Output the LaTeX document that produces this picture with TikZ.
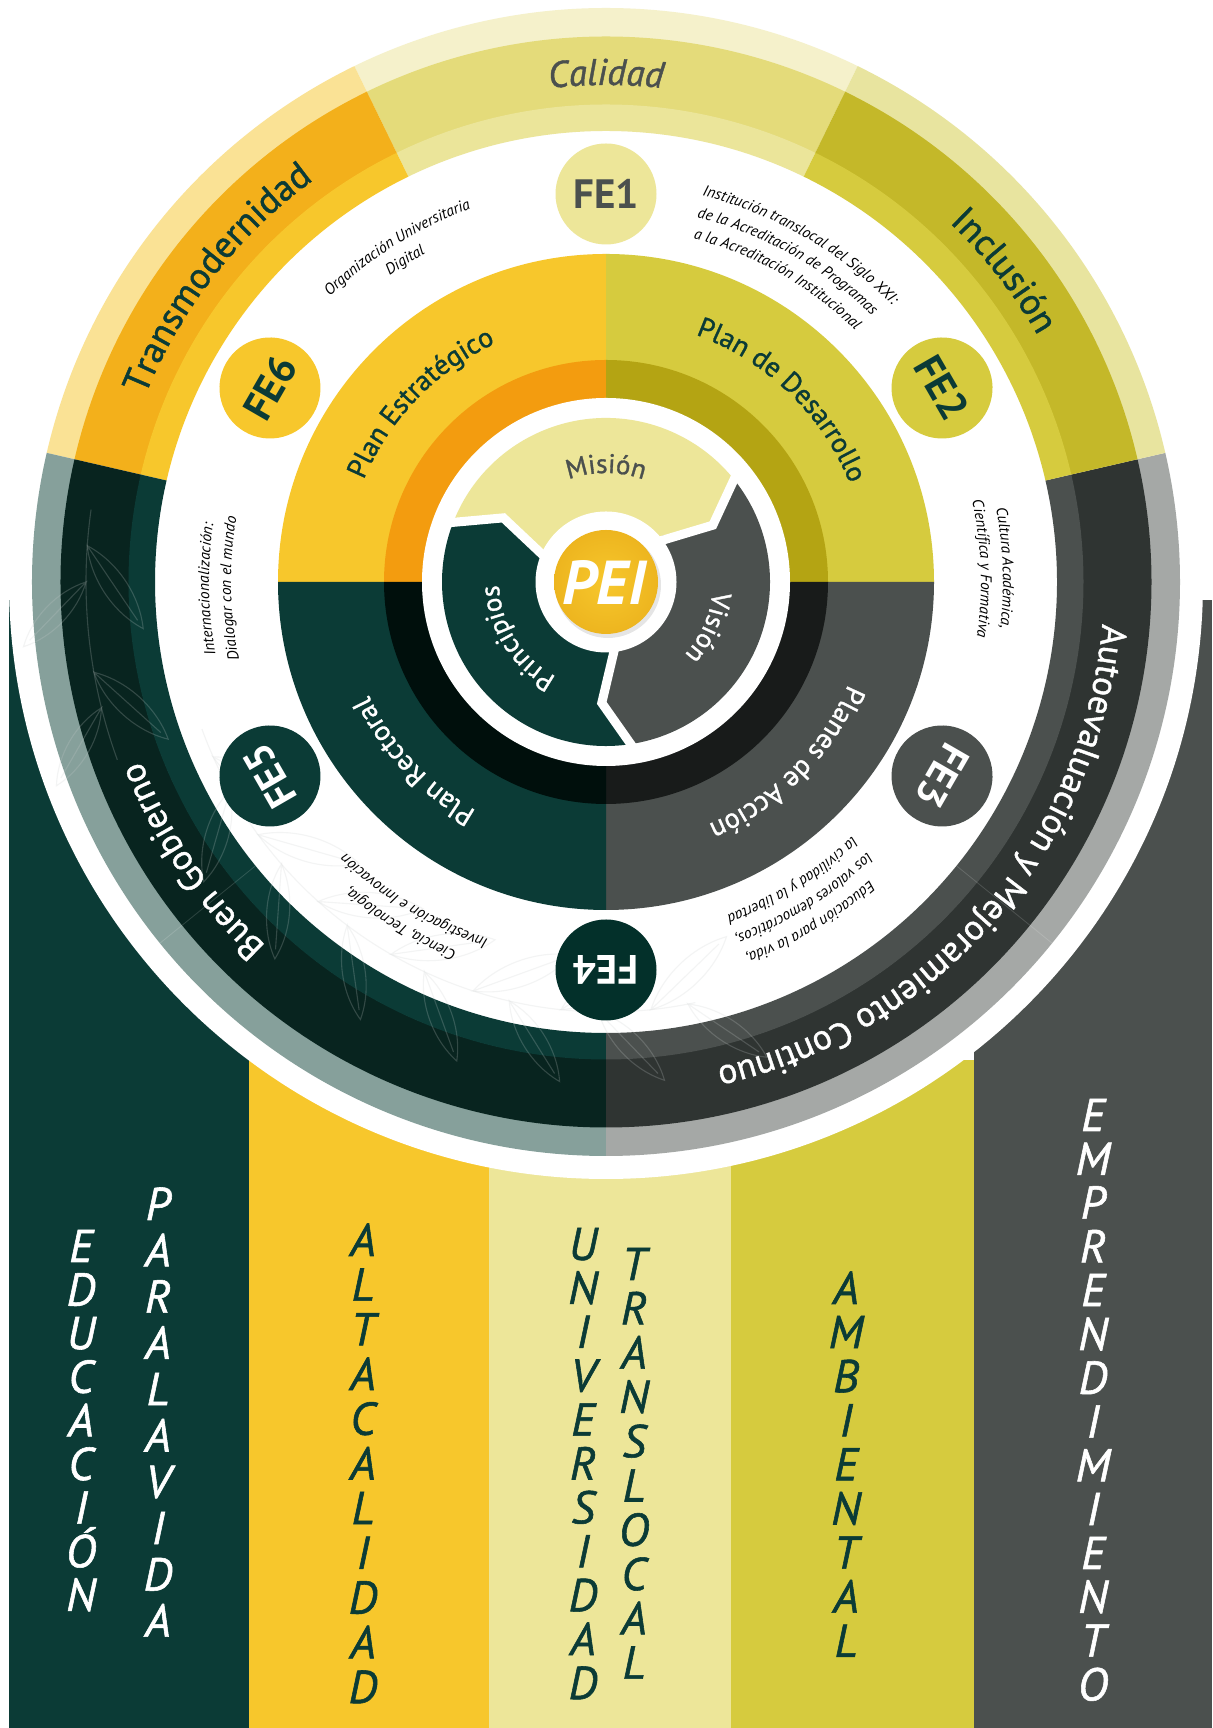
\documentclass[tikz,border=0pt]{standalone}
\usepackage{fontspec}
\setmainfont{PT Sans}
\newfontfamily\medf{PT Sans}[FakeBold=1.2]
\usetikzlibrary{decorations.text}
\definecolor{cDG}{HTML}{0B3B36}
\definecolor{cGR}{HTML}{4B504E}
\definecolor{cYE}{HTML}{F7C72C}
\definecolor{cLY}{HTML}{EDE699}
\definecolor{cYG}{HTML}{D6CB3E}
\definecolor{caO}{HTML}{F5F1CB}\definecolor{caM}{HTML}{E4DB7A}\definecolor{caI}{HTML}{EBE59A}
\definecolor{trO}{HTML}{FAE295}\definecolor{trM}{HTML}{F3B01B}\definecolor{trI}{HTML}{F7C72C}
\definecolor{inO}{HTML}{E8E49F}\definecolor{inM}{HTML}{C4B829}\definecolor{inI}{HTML}{D6CB3E}
\definecolor{bgO}{HTML}{86A09B}\definecolor{bgM}{HTML}{08241F}\definecolor{bgI}{HTML}{0B3B36}
\definecolor{auO}{HTML}{A5A8A6}\definecolor{auM}{HTML}{2F3432}\definecolor{auI}{HTML}{4B504E}
\definecolor{qTL}{HTML}{F39C0F}\definecolor{qTR}{HTML}{B4A413}\definecolor{qBR}{HTML}{181B1A}\definecolor{qBL}{HTML}{000F0C}
\definecolor{cFEfour}{HTML}{03302A}
\definecolor{peiY}{HTML}{EDB51F}
\definecolor{leafc}{HTML}{C9CDCD}

\newcommand{\annsec}[5]{\fill[#5] (#1:#4) arc[start angle=#1,end angle=#2,radius=#4] -- (#2:#3) arc[start angle=#2,end angle=#1,radius=#3] -- cycle;}
\newcommand{\ringsec}[5]{\annsec{#1}{#2}{545pt}{574pt}{#3}\annsec{#1}{#2}{477pt}{545.5pt}{#4}\annsec{#1}{#2}{451pt}{477.5pt}{#5}}
\newcommand{\arctxt}[6]{\path[decorate,decoration={text along path,text align=center,text color=#4,text={|#5|#6}}] (#2+#3:#1) arc[start angle=#2+#3,end angle=#2-#3,radius=#1];}
\newcommand{\fOut}{\medf\fontsize{37pt}{37pt}\selectfont}
\newcommand{\fOutB}{\medf\fontsize{35.5pt}{35.5pt}\selectfont}
\newcommand{\fQ}{\medf\fontsize{28pt}{28pt}\selectfont}
\newcommand{\fS}{\medf\fontsize{27pt}{27pt}\selectfont}
\newcommand{\fT}{\fontsize{15.5pt}{15.5pt}\selectfont\itshape}
\newcommand{\colword}[5]{\foreach \l [count=\i from 0] in {#5} {\node[collet,text=#4] at (#1,{1728-#2-16-\i*#3}) {\l};}}
\newcommand{\leafat}[3]{\draw[leafst, shift={(#1)}, rotate=#2] (0,0) .. controls (0.3*#3,0.16*#3) and (0.7*#3,0.16*#3) .. (#3,0) .. controls (0.7*#3,-0.16*#3) and (0.3*#3,-0.16*#3) .. (0,0) -- (0.9*#3,0);}

\tikzset{
  collet/.style={font=\medf\fontsize{46pt}{46pt}\selectfont\itshape, anchor=base, inner sep=0pt},
  fecirc/.style={circle, minimum size=101pt, inner sep=0pt, font=\fontsize{41pt}{41pt}\selectfont\bfseries},
  sepline/.style={white, line width=9pt, line join=miter},
  leafst/.style={leafc, line width=1.1pt, opacity=.22}
}

\begin{document}
\begin{tikzpicture}[x=1pt,y=1pt]
\useasboundingbox (0,0) rectangle (1212,1728);
\fill[white] (0,0) rectangle (1212,1728);
% columns
\fill[cDG] (9,0) rectangle (249,1128);
\fill[cYE] (249,0) rectangle (489,668);
\fill[cLY] (489,0) rectangle (731,668);
\fill[cYG] (731,0) rectangle (974,668);
\fill[cGR] (974,0) rectangle (1212,1128);

\colword{81}{1246}{43.6}{white}{E,D,U,C,A,C,I,Ó,N}
\colword{158}{1204}{46.3}{white}{P,A,R,A,L,A,V,I,D,A}
\colword{363}{1240}{44.7}{cDG}{A,L,T,A,C,A,L,I,D,A,D}
\colword{583}{1244}{43.9}{cDG}{U,N,I,V,E,R,S,I,D,A,D}
\colword{634}{1264}{44.3}{cDG}{T,R,A,N,S,L,O,C,A,L}
\colword{846}{1288}{44.1}{cDG}{A,M,B,I,E,N,T,A,L}
\colword{1093}{1115}{43.8}{white}{E,M,P,R,E,N,D,I,M,I,E,N,T,O}

\begin{scope}[shift={(606,1146)}]
\fill[white] (0,0) circle[radius=597pt];
% outer ring
\ringsec{64}{116}{caO}{caM}{caI}
\ringsec{116}{167}{trO}{trM}{trI}
\ringsec{167}{270}{bgO}{bgM}{bgI}
\ringsec{-90}{13}{auO}{auM}{auI}
\ringsec{13}{64}{inO}{inM}{inI}
\draw[white,opacity=.15,line width=.8pt] (219:451pt) -- (219:574pt);
\draw[white,opacity=.15,line width=.8pt] (-39:451pt) -- (-39:574pt);

% faint leaf branches (background)
\draw[leafst] (200:430pt) arc[start angle=200,end angle=282,radius=430pt];
\foreach \a in {204,216,...,276} {
  \leafat{\a:430pt}{\a+90+38}{105}
  \leafat{\a+5:430pt}{\a+90-40}{95}
}
\draw[leafst] (172:520pt) arc[start angle=172,end angle=200,radius=520pt];
\foreach \a in {176,190} {
  \leafat{\a:520pt}{\a+90+38}{100}
  \leafat{\a+4:520pt}{\a+90-40}{90}
}

\arctxt{497pt}{142}{60}{cDG}{\fOut}{Transmodernidad}
\arctxt{497pt}{90}{60}{cGR}{\fOut\itshape}{Calidad}
\arctxt{497pt}{38}{60}{cDG}{\fOut}{Inclusión}
\arctxt{498pt}{214}{60}{white}{\fOutB}{Buen Gobierno}
\arctxt{498pt}{-41}{70}{white}{\fOutB}{Autoevaluación y Mejoramiento Continuo}

% FE circles
\node[fecirc, fill=cLY, text=cGR] (fe1) at (90:388pt) {FE1};
\node[fecirc, fill=cYG, text=cDG, rotate=-60] (fe2) at (30:388pt) {FE2};
\node[fecirc, fill=cGR, text=white, rotate=-120] (fe3) at (-30:388pt) {FE3};
\node[fecirc, fill=cFEfour, text=white, rotate=180] (fe4) at (-90:388pt) {FE4};
\node[fecirc, fill=cDG, text=white, rotate=120] (fe5) at (210:388pt) {FE5};
\node[fecirc, fill=cYE, text=cDG, rotate=60] (fe6) at (150:388pt) {FE6};

% small texts
\arctxt{397pt}{122}{40}{black}{\fT}{Organización Universitaria}
\arctxt{375pt}{122}{40}{black}{\fT}{Digital}
\arctxt{398pt}{60}{40}{black}{\fT}{Institución translocal del Siglo XXI:}
\arctxt{376pt}{60.5}{40}{black}{\fT}{de la Acreditación de Programas}
\arctxt{354pt}{60.5}{40}{black}{\fT}{a  la Acreditación Institucional}
\arctxt{397pt}{2}{40}{black}{\fT}{Cultura Académica,}
\arctxt{375pt}{2}{40}{black}{\fT}{Científica y Formativa}
\arctxt{398pt}{-59}{40}{black}{\fT}{Educación para la vida,}
\arctxt{376pt}{-58}{40}{black}{\fT}{los valores democráticos,}
\arctxt{354pt}{-58}{40}{black}{\fT}{la civilidad y la libertad}
\arctxt{398pt}{239}{40}{black}{\fT}{Ciencia, Tecnología,}
\arctxt{376pt}{239}{40}{black}{\fT}{Investigación e Innovación}
\arctxt{397pt}{181}{40}{black}{\fT}{Internacionalización:}
\arctxt{375pt}{181}{40}{black}{\fT}{Dialogar con el mundo}

% quadrant ring
\annsec{90}{180}{0pt}{328pt}{cYE}
\annsec{0}{90}{0pt}{328pt}{cYG}
\annsec{-90}{0}{0pt}{328pt}{cGR}
\annsec{180}{270}{0pt}{328pt}{cDG}
\annsec{90}{180}{183pt}{222pt}{qTL}
\annsec{0}{90}{183pt}{222pt}{qTR}
\annsec{-90}{0}{183pt}{222pt}{qBR}
\annsec{180}{270}{183pt}{222pt}{qBL}
\fill[white] (0,0) circle[radius=184pt];

\arctxt{263pt}{136}{60}{cDG}{\fQ}{Plan Estratégico}
\arctxt{263pt}{46}{60}{cDG}{\fQ}{Plan de Desarrollo}
\arctxt{263pt}{-45}{60}{white}{\fQ}{Planes de Acción}
\arctxt{263pt}{223}{60}{white}{\fQ}{Plan Rectoral}

% inner segments
\fill[cLY] (160:164pt) arc[start angle=160,end angle=40,radius=164pt] -- (28:121pt) -- (40:71pt) -- (40:60pt) arc[start angle=40,end angle=160,radius=60pt] -- (160:71pt) -- (148:121pt) -- cycle;
\fill[cGR] (40:164pt) arc[start angle=40,end angle=-80,radius=164pt] -- (-92:121pt) -- (-80:71pt) -- (-80:60pt) arc[start angle=-80,end angle=40,radius=60pt] -- (40:71pt) -- (28:121pt) -- cycle;
\fill[cDG] (280:164pt) arc[start angle=280,end angle=160,radius=164pt] -- (148:121pt) -- (160:71pt) -- (160:60pt) arc[start angle=160,end angle=280,radius=60pt] -- (280:71pt) -- (268:121pt) -- cycle;
\foreach \t in {160,40,-80} {\draw[sepline] (\t:172pt) -- (\t-12:121pt) -- (\t:60pt);}

\arctxt{109pt}{90}{70}{cGR}{\fS}{Misión}
\arctxt{107pt}{-24}{70}{white}{\fS}{Visión}
\arctxt{107pt}{212}{70}{white}{\fS}{Principios}

% PEI
\node[circle, fill=white, minimum size=141pt, inner sep=0pt] (peiring) at (0,0) {};
\node[circle, fill=black, opacity=.10, minimum size=106pt, inner sep=0pt] (peishadow) at (2,-3) {};
\node[circle, inner color=cYE, outer color=peiY, minimum size=104pt, inner sep=0pt] (pei) at (0,0) {};
\node[font=\fontsize{62pt}{62pt}\selectfont\bfseries\itshape, text=white] (peitxt) at (-2,-1) {PEI};
\end{scope}
\end{tikzpicture}
\end{document}
